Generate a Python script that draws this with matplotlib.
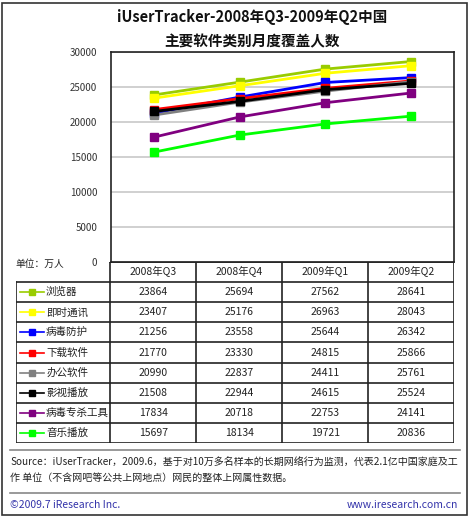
import matplotlib.pyplot as plt
from matplotlib.lines import Line2D
from matplotlib.patches import Rectangle

plt.rcParams['font.family'] = ['Noto Sans CJK SC', 'DejaVu Sans']

quarters = ['2008年Q3', '2008年Q4', '2009年Q1', '2009年Q2']
names = ['浏览器', '即时通讯', '病毒防护', '下载软件', '办公软件', '影视播放', '病毒专杀工具', '音乐播放']
colors = ['#99cc00', '#ffff00', '#0000ff', '#ff0000', '#808080', '#000000', '#800080', '#00ff00']
values = [
    [23864, 25694, 27562, 28641],
    [23407, 25176, 26963, 28043],
    [21256, 23558, 25644, 26342],
    [21770, 23330, 24815, 25866],
    [20990, 22837, 24411, 25761],
    [21508, 22944, 24615, 25524],
    [17834, 20718, 22753, 24141],
    [15697, 18134, 19721, 20836],
]
yticks = [0, 5000, 10000, 15000, 20000, 25000, 30000]

W, H = 470, 517


def box(x0, y0, x1, y1):
    return [x0 / W, 1 - y1 / H, (x1 - x0) / W, (y1 - y0) / H]


fig = plt.figure(figsize=(4.7, 5.17), dpi=100)
fig.patch.set_facecolor('white')

# outer frame
fig.add_artist(Rectangle((2 / W, 2 / H), 465 / W, 512 / H, transform=fig.transFigure,
                         fill=False, edgecolor='#333333', linewidth=1.2))

fig.text(252 / W, 1 - 17 / H, 'iUserTracker-2008年Q3-2009年Q2中国', ha='center', va='center',
         fontsize=10.5, fontweight='bold', color='#111111')
fig.text(252 / W, 1 - 41 / H, '主要软件类别月度覆盖人数', ha='center', va='center',
         fontsize=10.5, fontweight='bold', color='#111111')

# line chart
ax = fig.add_axes(box(111, 52, 454, 262))
x = list(range(len(quarters)))
for vals, c in zip(values, colors):
    ax.plot(x, vals, color=c, linewidth=2, marker='s', markersize=5.5, zorder=3)
ax.set_xlim(-0.5, len(quarters) - 0.5)
ax.set_ylim(0, 30000)
ax.set_yticks(yticks)
ax.set_yticklabels([str(v) for v in yticks], fontsize=7, color='#333333')
ax.set_xticks([])
ax.tick_params(axis='y', length=0, pad=10)
ax.grid(axis='y', color='#c8c8c8', linewidth=1.2)
ax.set_axisbelow(True)
for s in ax.spines.values():
    s.set_color('#222222')
    s.set_linewidth(1.2)

fig.text(15 / W, 1 - 264 / H, '单位：万人', fontsize=7, va='center', color='#222222')

# table
tb = fig.add_axes(box(16, 262, 454, 443))
lw_col = 1.1
nrows = len(names) + 1
tb.set_xlim(-lw_col, len(quarters))
tb.set_ylim(nrows, 0)
tb.axis('off')
lc = '#222222'
# horizontal lines
tb.plot([0, len(quarters)], [0, 0], color=lc, lw=1.2)
for r in range(1, nrows + 1):
    tb.plot([-lw_col, len(quarters)], [r, r], color=lc, lw=1.2)
# vertical lines
tb.plot([-lw_col, -lw_col], [1, nrows], color=lc, lw=1.2)
for cidx in range(len(quarters) + 1):
    tb.plot([cidx, cidx], [0, nrows], color=lc, lw=1.2)
for cidx, q in enumerate(quarters):
    tb.text(cidx + 0.5, 0.5, q, ha='center', va='center', fontsize=7.5, color='#222222')
for r, (n, c, vals) in enumerate(zip(names, colors, values), start=1):
    tb.plot([-lw_col + 0.05, -lw_col + 0.33], [r + 0.5, r + 0.5], color=c, lw=1.2)
    tb.plot([-lw_col + 0.19], [r + 0.5], color=c, marker='s', markersize=4.5)
    tb.text(-lw_col + 0.35, r + 0.5, n, ha='left', va='center', fontsize=7.6, color='#222222')
    for cidx, v in enumerate(vals):
        tb.text(cidx + 0.5, r + 0.5, str(v), ha='center', va='center', fontsize=7.5, color='#222222')

# footer
fig.add_artist(Line2D([10 / W, 460 / W], [1 - 450 / H] * 2, color='#888888', lw=1.2))
fig.add_artist(Line2D([10 / W, 460 / W], [1 - 493 / H] * 2, color='#888888', lw=1.2))
fig.text(10 / W, 1 - 463 / H, 'Source：iUserTracker，2009.6，基于对10万多名样本的长期网络行为监测，代表2.1亿中国家庭及工',
         fontsize=7.2, va='center', color='#222222')
fig.text(10 / W, 1 - 478 / H, '作 单位（不含网吧等公共上网地点）网民的整体上网属性数据。',
         fontsize=7.2, va='center', color='#222222')
fig.text(10 / W, 1 - 505 / H, '©2009.7 iResearch Inc.', fontsize=7.5, va='center', color='#3333aa')
fig.text(458 / W, 1 - 505 / H, 'www.iresearch.com.cn', fontsize=7.5, va='center', ha='right', color='#3333aa')

fig.savefig('out.png', dpi=100)
